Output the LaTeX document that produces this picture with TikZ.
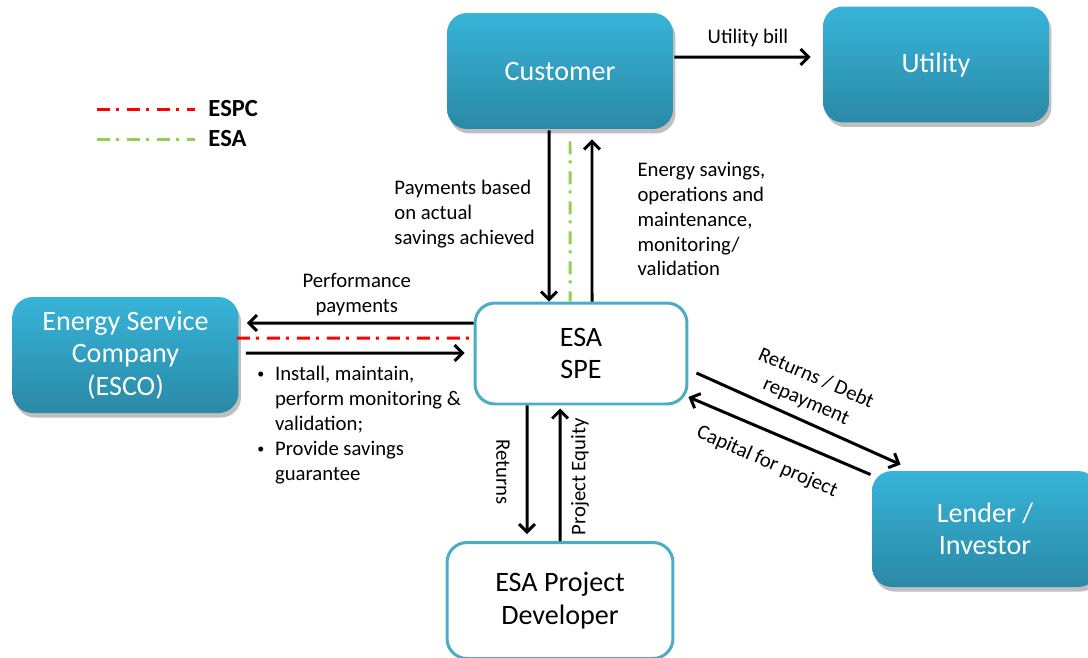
\documentclass[tikz,border=0pt]{standalone}
\usepackage{fontspec}
\setmainfont{Carlito}
\usetikzlibrary{arrows.meta,shadows}
\definecolor{box_top}{RGB}{55,180,216}
\definecolor{box_bot}{RGB}{42,137,166}
\definecolor{edge_blue}{RGB}{75,172,198}
\definecolor{line_red}{RGB}{255,0,0}
\definecolor{line_green}{RGB}{146,208,80}
\newcommand{\smallbul}{\raisebox{0.2ex}{\fontsize{8}{8}\selectfont\textbullet}}

\begin{document}
\begin{tikzpicture}[x=0.02cm,y=-0.02cm,line width=1.7pt,>={Straight Barb[length=4.5pt,width=9pt]}]
    \tikzstyle{box}=[rectangle, rounded corners=0.4cm, minimum width=4.52cm, minimum height=2.32cm, align=center, font=\fontsize{16}{18.5}\selectfont]
    \tikzstyle{solid box}=[style=box, top color=box_top, bottom color=box_bot, draw=none, text=white, drop shadow={shadow xshift=0.05cm, shadow yshift=-0.09cm, opacity=0.25, fill=black}]
    \tikzstyle{open box}=[style=box, draw=edge_blue, fill=white, text=black]
    \tikzstyle{lbl}=[font=\fontsize{11.8}{14.2}\selectfont, align=left, inner sep=0pt]
    \tikzstyle{key}=[font=\fontsize{14}{16}\bfseries, inner sep=0pt, anchor=west]
    \tikzstyle{espc}=[line_red, dash pattern=on 0.26cm off 0.12cm on 0.06cm off 0.16cm]
    \tikzstyle{esa}=[line_green, dash pattern=on 0.26cm off 0.12cm on 0.06cm off 0.16cm]

    \useasboundingbox (0,0) rectangle (1088,657);

    % legend
    \coordinate (espc_start) at (97,109);
    \coordinate (esa_start) at (97,139);
    \node[key] (espc_key) at (207,109) {ESPC};
    \node[key] (esa_key) at (207,139) {ESA};
    \draw[espc] (espc_start) -- ([xshift=-0.24cm]espc_key.west);
    \draw[esa] (esa_start) -- ([xshift=-0.24cm]esa_key.west);

    % boxes
    \node[solid box] (cust) at (560,71) {Customer};
    \node[solid box] (util) at (936,64.5) {Utility};
    \node[solid box] (esco) at (125.5,355) {Energy Service\\Company\\(ESCO)};
    \node[solid box] (lender) at (985,529) {Lender /\\Investor};
    \node[open box, minimum width=4.24cm, minimum height=2.02cm] (spe) at (581,353.5) {ESA\\SPE};
    \node[open box] (dev) at (560,600.5) {ESA Project\\Developer};

    % customer and utility
    \draw[->, shorten >=0.22cm] ([yshift=0.28cm]cust.east) -- ([yshift=0.15cm]util.west)
        node[lbl, midway, above=0.18cm] {Utility bill};

    % customer and SPE
    \draw[->] ([xshift=-0.22cm]cust.south) -- ([xshift=-0.64cm]spe.north);
    \draw[->, shorten >=0.18cm] ([xshift=0.22cm]spe.north) -- ([xshift=0.64cm]cust.south);
    \draw[esa] ([xshift=0.2cm, yshift=-0.22cm]cust.south) -- ([xshift=-0.22cm]spe.north);
    \node[lbl, anchor=west] (paylbl) at (393,214) {Payments based\\on actual\\savings achieved};
    \node[lbl, anchor=west] (savlbl) at (636,219) {Energy savings,\\operations and\\maintenance,\\monitoring/\\validation};

    % ESCO and SPE
    \draw[->, shorten >=0.14cm] ([yshift=0.61cm]spe.west) -- ([yshift=0.64cm]esco.east)
        node[lbl, align=center, midway, above=0.12cm] {Performance\\payments};
    \draw[espc] ([xshift=-0.06cm, yshift=0.34cm]esco.east) -- ([yshift=0.31cm]spe.west);
    \draw[->, shorten >=0.18cm] ([xshift=0.12cm, yshift=0.04cm]esco.east) -- ([yshift=0.01cm]spe.west);
    \node[lbl, anchor=north west] (tasks) at (256,362) {\begin{tabular}{@{}l@{\hspace{6pt}}l@{}}
        \smallbul & Install, maintain,\\
                  & perform monitoring \&\\
                  & validation;\\
        \smallbul & Provide savings\\
                  & guarantee
      \end{tabular}};

    % SPE and developer
    \draw[->, shorten >=0.14cm] ([xshift=-1.08cm]spe.south) -- ([xshift=-0.66cm]dev.north);
    \draw[->, shorten >=0.06cm] (dev.north) -- ([xshift=-0.42cm]spe.south);
    \node[lbl, rotate=-90] (retlbl) at (503,472) {Returns};
    \node[lbl, rotate=90] (eqlbl) at (580,477) {Project Equity};

    % SPE and lender
    \draw[->] ([xshift=0.16cm, yshift=-0.39cm]spe.east) -- ([xshift=0.6cm, yshift=0.1cm]lender.north west);
    \draw[->] ([yshift=-0.1cm]lender.north west) -- ([yshift=-0.87cm]spe.east);
    \node[lbl, align=center, rotate=-23.5] (debtlbl) at (811,390) {Returns / Debt\\repayment};
    \node[lbl, rotate=-23.5] (caplbl) at (767,462) {Capital for project};
\end{tikzpicture}
\end{document}
